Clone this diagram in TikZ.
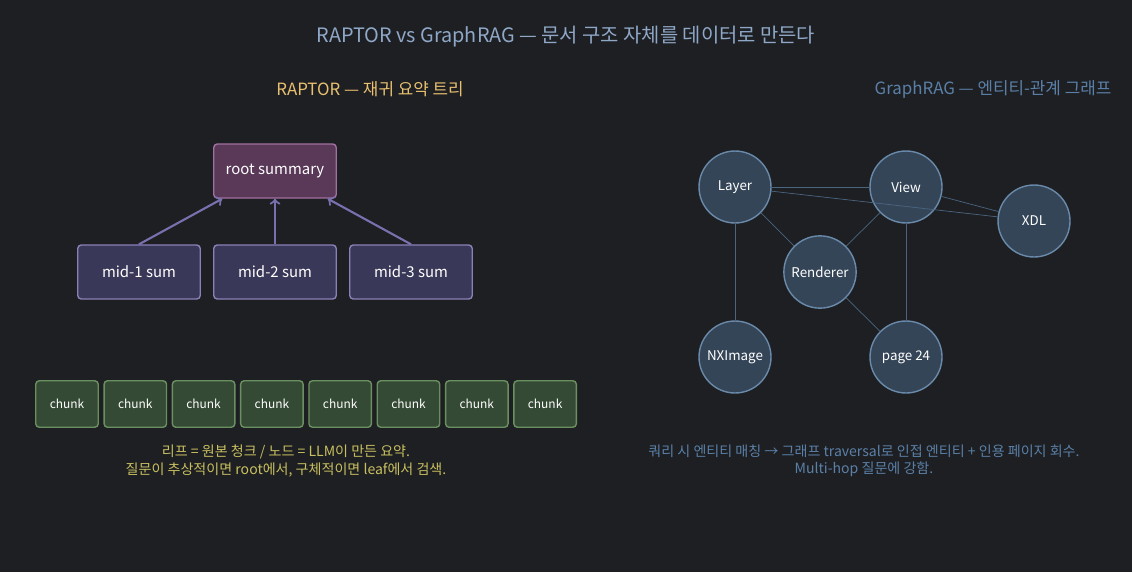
\documentclass[tikz,border=0pt]{standalone}
\usepackage{fontspec}
\setmainfont{Noto Sans CJK KR}
\usetikzlibrary{positioning}
\definecolor{bg}{HTML}{1E1F22}
\definecolor{titlec}{HTML}{8FA8C8}
\definecolor{raptorc}{HTML}{E8C070}
\definecolor{graphc}{HTML}{5A80A8}
\definecolor{rootfill}{HTML}{5A3858}
\definecolor{rootdraw}{HTML}{A070A0}
\definecolor{midfill}{HTML}{3A3858}
\definecolor{middraw}{HTML}{8A80B8}
\definecolor{arrowc}{HTML}{7A70B0}
\definecolor{chunkfill}{HTML}{354A35}
\definecolor{chunkdraw}{HTML}{6A9060}
\definecolor{notec}{HTML}{C8C060}
\definecolor{entfill}{HTML}{354558}
\definecolor{entdraw}{HTML}{6A8AAA}
\definecolor{edgec}{HTML}{4A6580}
\tikzset{
    sumbox/.style={draw=middraw, fill=midfill, thick, rounded corners=2pt, minimum width=2.45cm, minimum height=1.08cm, text=white, font=\fontsize{8.5}{10}\selectfont},
    chunkbox/.style={draw=chunkdraw, fill=chunkfill, thick, rounded corners=2pt, minimum width=1.25cm, minimum height=0.93cm, text=white, font=\fontsize{6.8}{8}\selectfont},
    entity/.style={circle, draw=entdraw, fill=entfill, thick, minimum size=1.44cm, text=white, font=\fontsize{7.6}{9}\selectfont},
    edge/.style={edgec, thin}
}

\begin{document}
\begin{tikzpicture}[x=0.02cm, y=-0.02cm]
        \fill[bg] (0,0) rectangle (1132,572);

        % Titles.
        \node[titlec, font=\fontsize{11.3}{13}\selectfont] (title) at (566,37) {RAPTOR vs GraphRAG — 문서 구조 자체를 데이터로 만든다};
        \node[raptorc, font=\fontsize{9.6}{11}\selectfont] (rtitle) at (370,89) {RAPTOR — 재귀 요약 트리};
        \node[graphc, font=\fontsize{9.6}{11}\selectfont] (gtitle) at (993,89) {GraphRAG — 엔티티-관계 그래프};

        % Tree.
        \node[sumbox, draw=rootdraw, fill=rootfill] (root) at (275,171) {root summary};
        \node[sumbox] (mid1) at (139,272) {mid-1 sum};
        \node[sumbox] (mid2) at (275,272) {mid-2 sum};
        \node[sumbox] (mid3) at (411,272) {mid-3 sum};
        \draw[arrowc, very thick, ->] (mid1.north) -- ([xshift=-30]root.south);
        \draw[arrowc, very thick, ->] (mid2.north) -- (root.south);
        \draw[arrowc, very thick, ->] (mid3.north) -- ([xshift=30]root.south);

        % Leaves.
        \foreach \i in {0,...,7}
            \node[chunkbox] (chunk\i) at (67+68.3*\i,404) {chunk};

        \node[notec, align=center, font=\fontsize{8}{10}\selectfont] (rnote) at (286,461)
            {리프 = 원본 청크 / 노드 = LLM이 만든 요약.\\질문이 추상적이면 root에서, 구체적이면 leaf에서 검색.};

        % Graph.
        \node[entity] (layer) at (735,187) {Layer};
        \node[entity] (view) at (906,187) {View};
        \node[entity] (xdl) at (1034,221) {XDL};
        \node[entity] (renderer) at (820,272) {Renderer};
        \node[entity] (nximage) at (735,357) {NXImage};
        \node[entity] (page) at (906,357) {page 24};
        \draw[edge] (layer) -- (view);
        \draw[edge] (layer) -- (xdl);
        \draw[edge] (layer) -- (renderer);
        \draw[edge] (view) -- (renderer);
        \draw[edge] (view) -- (xdl);
        \draw[edge] (layer) -- (nximage);
        \draw[edge] (view) -- (page);
        \draw[edge] (renderer) -- (page);

        \node[graphc, align=center, font=\fontsize{8}{10}\selectfont] (gnote) at (864,461)
            {쿼리 시 엔티티 매칭 → 그래프 traversal로 인접 엔티티 + 인용 페이지 회수.\\Multi-hop 질문에 강함.};
\end{tikzpicture}
\end{document}
